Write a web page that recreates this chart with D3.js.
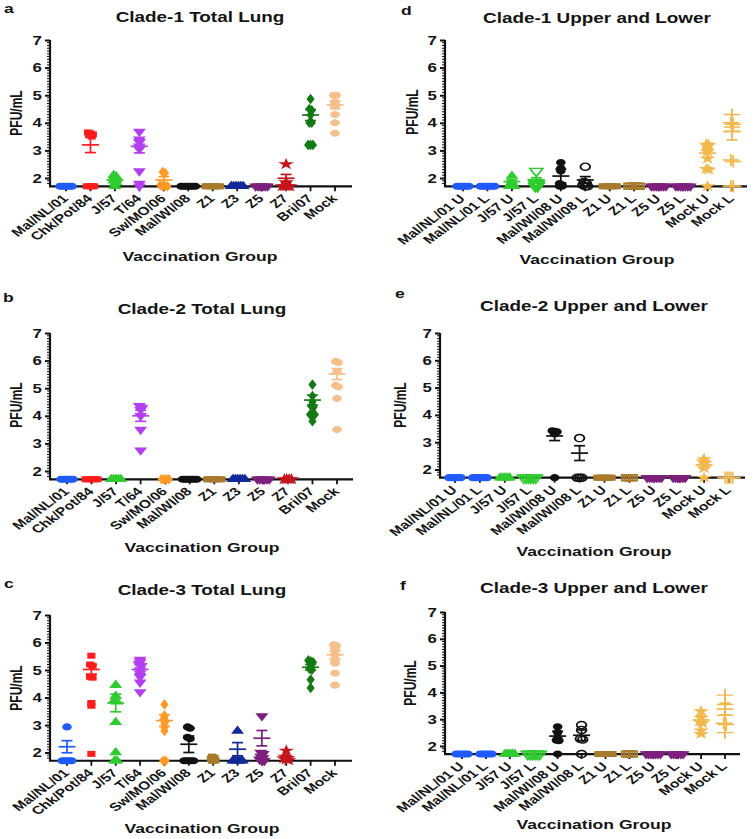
<!DOCTYPE html>
<html><head><meta charset="utf-8">
<script src="https://cdn.jsdelivr.net/npm/d3@7"></script>
<style>
body{margin:0;background:#fff;}
svg{display:block;}
text{font-family:"Liberation Sans",Arial,Helvetica,sans-serif;font-weight:bold;fill:#141414;}
</style>
</head><body>
<svg id="fig" width="755" height="839"></svg>
<script>
// ---------------- DATA ----------------
const catsLeft = ["Mal/NL/01","Chk/Pot/84","J/57","T/64","Sw/MO/06","Mal/WI/08","Z1","Z3","Z5","Z7","Bri/07","Mock"];
const catsRight = ["Mal/NL/01 U","Mal/NL/01 L","J/57 U","J/57 L","Mal/WI/08 U","Mal/WI/08 L","Z1 U","Z1 L","Z5 U","Z5 L","Mock U","Mock L"];
const yTicks = [2,3,4,5,6,7];

// Panel a: Clade-1 Total Lung (log10 PFU/mL per animal)
const pointsA = [
  [1.7,1.7,1.7,1.7,1.7,1.7],
  [3.65,3.62,3.58,3.55,3.5,1.7,1.7,1.7,1.7],
  [2.1,2.05,2.0,1.95,1.9,1.85,1.8,1.7],
  [3.68,3.4,3.3,3.15,3.05,2.25,1.8,1.7],
  [2.22,2.18,1.75,1.7,1.7,1.7],
  [1.7,1.7,1.7,1.7,1.7,1.7,1.7],
  [1.7,1.7,1.7,1.7,1.7,1.7,1.7],
  [1.7,1.7,1.7,1.7,1.7,1.7],
  [1.7,1.7,1.7,1.7,1.7,1.7],
  [2.5,1.85,1.7,1.7,1.7,1.7],
  [4.86,4.5,4.45,4.28,4.0,4.0,3.2,3.2,3.2],
  [5.0,5.0,4.75,4.68,4.6,4.3,4.0,3.62]
];
const meanA = [null,3.2,1.93,3.15,1.93,null,null,null,null,1.99,4.28,4.65];
const semA  = [0,0.28,0.08,0.24,0.12,0,0,0,0,0.14,0.2,0.14];

// Panel b: Clade-2 Total Lung
const pointsB = [
  [1.7,1.7,1.7,1.7,1.7,1.7],
  [1.7,1.7,1.7,1.7,1.7,1.7],
  [1.7,1.7,1.7,1.7,1.7],
  [4.36,4.3,4.22,4.0,3.5,2.75],
  [1.7,1.7,1.7,1.7],
  [1.7,1.7,1.7,1.7,1.7,1.7,1.7],
  [1.7,1.7,1.7,1.7,1.7,1.7,1.7],
  [1.7,1.7,1.7,1.7,1.7,1.7],
  [1.7,1.7,1.7,1.7,1.7,1.7],
  [1.7,1.7,1.7,1.7],
  [5.13,4.72,4.5,4.35,4.32,4.05,4.05,4.05,3.8],
  [5.97,5.93,5.6,5.1,5.05,4.63,3.5]
];
const meanB = [null,null,null,4.0,null,null,null,null,null,null,4.57,5.51];
const semB  = [0,0,0,0.2,0,0,0,0,0,0,0.18,0.2];

// Panel c: Clade-3 Total Lung
const pointsC = [
  [2.93,1.7,1.7,1.7,1.7,1.7],
  [5.52,5.2,5.15,4.75,4.72,3.8,3.7,1.95],
  [4.45,4.05,3.9,3.85,3.1,2.0,1.7,1.7],
  [5.38,5.3,5.22,5.15,5.0,4.88,4.75,4.55,4.2],
  [3.75,3.35,3.28,3.2,3.15,3.05,2.9,2.78,1.7,1.7],
  [2.93,2.88,2.55,2.5,1.7,1.7,1.7,1.7,1.7],
  [1.85,1.82,1.78,1.75,1.72,1.7,1.7],
  [2.78,1.7,1.7,1.7,1.7,1.7],
  [3.33,2.0,1.95,1.85,1.8,1.75,1.7,1.7],
  [2.07,1.85,1.8,1.78,1.75,1.72],
  [5.35,5.32,5.28,5.2,5.12,5.05,5.0,4.65,4.35],
  [5.92,5.88,5.8,5.72,5.55,5.35,5.25,4.88,4.45]
];
const meanC = [2.21,5.02,3.8,5.02,3.16,2.3,null,2.12,2.52,null,5.1,5.55];
const semC  = [0.22,0.17,0.32,0.16,0.21,0.3,0,0.24,0.28,0,0.1,0.15];

// Panel d: Clade-1 Upper and Lower
const pointsD = [
  [1.7,1.7,1.7,1.7,1.7,1.7],
  [1.7,1.7,1.7,1.7,1.7,1.7,1.7],
  [2.07,1.8,1.75,1.7,1.7,1.7],
  [2.25,1.85,1.8,1.78,1.75,1.7,1.7],
  [2.56,2.35,2.25,1.8,1.75,1.7,1.7],
  [2.41,1.85,1.8,1.75,1.7,1.7],
  [1.7,1.7,1.7,1.7,1.7,1.7,1.7],
  [1.7,1.7,1.7,1.7,1.7,1.7],
  [1.7,1.7,1.7,1.7,1.7,1.7,1.7],
  [1.7,1.7,1.7,1.7,1.7,1.7,1.7],
  [3.22,3.2,3.15,2.95,2.7,2.33,2.3,1.7],
  [4.3,4.0,3.95,3.85,3.7,2.65,2.6,1.7,1.7]
];
const meanD = [null,null,1.87,1.93,2.07,1.93,null,null,null,null,2.9,3.68];
const semD  = [0,0,0.06,0.08,0.25,0.12,0,0,0,0,0.15,0.3];

// Panel e: Clade-2 Upper and Lower
const pointsE = [
  [1.7,1.7,1.7,1.7,1.7,1.7],
  [1.7,1.7,1.7,1.7,1.7,1.7,1.7],
  [1.7,1.7,1.7,1.7,1.7],
  [1.7,1.7,1.7,1.7,1.7,1.7],
  [3.42,3.4,3.38,3.3,1.7],
  [3.15,1.7,1.7,1.7],
  [1.7,1.7,1.7,1.7,1.7,1.7,1.7],
  [1.7,1.7,1.7,1.7],
  [1.7,1.7,1.7,1.7,1.7,1.7,1.7],
  [1.7,1.7,1.7,1.7,1.7,1.7],
  [2.38,2.3,2.25,2.05,1.7],
  [1.7,1.7,1.7,1.7]
];
const meanE = [null,null,null,null,3.23,2.6,null,null,null,null,2.17,null];
const semE  = [0,0,0,0,0.17,0.27,0,0,0,0,0.12,0];

// Panel f: Clade-3 Upper and Lower
const pointsF = [
  [1.7,1.7,1.7,1.7,1.7,1.7],
  [1.7,1.7,1.7,1.7,1.7,1.7],
  [1.7,1.7,1.7,1.7,1.7],
  [1.7,1.7,1.7,1.7,1.7,1.7],
  [2.72,2.5,2.3,2.22,2.2,1.7],
  [2.78,2.6,2.27,2.24,1.7],
  [1.7,1.7,1.7,1.7,1.7,1.7,1.7],
  [1.7,1.7,1.7,1.7],
  [1.7,1.7,1.7,1.7,1.7,1.7,1.7],
  [1.7,1.7,1.7,1.7,1.7,1.7],
  [3.3,3.05,2.92,2.85,2.58,2.45],
  [3.9,3.55,3.15,2.85,2.8,2.5]
];
const meanF = [null,null,null,null,2.37,2.4,null,null,null,null,2.97,3.38];
const semF  = [0,0,0,0,0.18,0.2,0,0,0,0,0.17,0.22];

// ---------------- STYLES ----------------
const colorsLeft = ["#1f5bff","#ff1c1c","#2fcc2f","#b43ff0","#ff9a26","#111111","#a87a2c","#12299a","#7d1f7d","#c3161c","#137a13","#f6c08c"];
const shapesLeft = ["circle","square","triangle","triangleDown","diamond","circle","square","triangle","triangleDown","star","diamond","circle"];
const filledLeft = [1,1,1,1,1,1,1,1,1,1,1,1];
const colorsRight = ["#1f5bff","#1f5bff","#2fcc2f","#2fcc2f","#111111","#111111","#a87a2c","#a87a2c","#7d1f7d","#7d1f7d","#f2b84e","#f2b84e"];
const shapesRight = ["circle","circle","triangle","triangleDown","circle","circle","square","square","triangleDown","triangleDown","star","plus"];
const filledRight = [1,1,1,0,1,0,1,0,1,1,1,0];

const SX = 1.35; // horizontal stretch of the original figure

const layouts = [
  {letter:"a", lx:4, ly:13, title:"Clade-1 Total Lung", tx:200, ty:22, ax:50, xEnd:352, c0:66, c1:335, y7:40, y2:178, xlY:261, ylX:22, ylY:113,
   cats:catsLeft, pts:pointsA, mean:meanA, sem:semA, col:colorsLeft, shp:shapesLeft, fil:filledLeft},
  {letter:"b", lx:3, ly:302, title:"Clade-2 Total Lung", tx:202, ty:314, ax:50, xEnd:353, c0:67, c1:337, y7:333, y2:471, xlY:552, ylX:22, ylY:405,
   cats:catsLeft, pts:pointsB, mean:meanB, sem:semB, col:colorsLeft, shp:shapesLeft, fil:filledLeft},
  {letter:"c", lx:4, ly:588, title:"Clade-3 Total Lung", tx:202, ty:595, ax:50, xEnd:352, c0:67, c1:335, y7:615, y2:752.5, xlY:833, ylX:22, ylY:688,
   cats:catsLeft, pts:pointsC, mean:meanC, sem:semC, col:colorsLeft, shp:shapesLeft, fil:filledLeft},
  {letter:"d", lx:401, ly:15, title:"Clade-1 Upper and Lower", tx:597, ty:23, ax:445, xEnd:747, c0:463, c1:732, y7:40, y2:178, xlY:264, ylX:418, ylY:112,
   cats:catsRight, pts:pointsD, mean:meanD, sem:semD, col:colorsRight, shp:shapesRight, fil:filledRight},
  {letter:"e", lx:395, ly:298, title:"Clade-2 Upper and Lower", tx:594, ty:311, ax:440, xEnd:745, c0:455, c1:729, y7:333, y2:469.5, xlY:556, ylX:406, ylY:405,
   cats:catsRight, pts:pointsE, mean:meanE, sem:semE, col:colorsRight, shp:shapesRight, fil:filledRight},
  {letter:"f", lx:400, ly:590, title:"Clade-3 Upper and Lower", tx:594, ty:593, ax:445, xEnd:740, c0:462, c1:725, y7:612, y2:746, xlY:829, ylX:416, ylY:683,
   cats:catsRight, pts:pointsF, mean:meanF, sem:semF, col:colorsRight, shp:shapesRight, fil:filledRight}
];

const svg = d3.select("#fig");
const symType = {circle:d3.symbolCircle, square:d3.symbolSquare, triangle:d3.symbolTriangle, triangleDown:d3.symbolTriangle,
  diamond:d3.symbolDiamond, star:d3.symbolStar, plus:(d3.symbolPlus||d3.symbolCross)};
const symSize = {circle:40, square:36, triangle:40, triangleDown:40, diamond:32, star:44, plus:50};

function stretchedText(g, x, y, txt, size, anchor, extra) {
  return g.append("text")
    .attr("transform", `translate(${x},${y}) scale(${SX},1)${extra||""}`)
    .attr("text-anchor", anchor).attr("font-size", size).text(txt);
}

layouts.forEach(P => {
  const g = svg.append("g");
  const y = d3.scaleLinear().domain([2,7]).range([P.y2, P.y7]);
  const yBot = y(1.7);
  const x = d3.scalePoint().domain(P.cats).range([P.c0, P.c1]);

  // letter and title
  stretchedText(g, P.lx, P.ly, P.letter, 13, "start");
  stretchedText(g, P.tx, P.ty, P.title, 14, "middle");

  // y axis
  const yAxis = d3.axisLeft(y.copy().domain([1.7,7]).range([yBot,P.y7])).tickValues(yTicks).tickSize(5).tickPadding(3).tickFormat(d3.format("d"));
  const ya = g.append("g").attr("transform",`translate(${P.ax},0)`).call(yAxis);
  ya.select(".domain").attr("stroke","#111").attr("stroke-width",2.2).attr("d",`M0,${yBot}V${P.y7}`);
  ya.selectAll(".tick line").attr("stroke","#111").attr("stroke-width",2);
  ya.selectAll(".tick text").remove();
  yTicks.forEach(t => stretchedText(g, P.ax-8, y(t)+4.5, String(t), 12.5, "end"));
  const minor = d3.range(18,70).map(v=>v/10).filter(v=>Math.abs(v-Math.round(v))>0.01);
  g.selectAll(null).data(minor).join("line")
    .attr("x1",P.ax).attr("x2",P.ax-3).attr("y1",d=>y(d)).attr("y2",d=>y(d))
    .attr("stroke","#111").attr("stroke-width",1);

  // y label
  stretchedText(g, P.ylX, P.ylY, "PFU/mL", 12, "middle", " rotate(-90)");

  // x axis
  g.append("line").attr("x1",P.ax-1).attr("x2",P.xEnd).attr("y1",yBot).attr("y2",yBot).attr("stroke","#111").attr("stroke-width",2.2);
  g.selectAll(null).data(P.cats).join("line")
    .attr("x1",d=>x(d)).attr("x2",d=>x(d)).attr("y1",yBot).attr("y2",yBot+5).attr("stroke","#111").attr("stroke-width",1.8);
  P.cats.forEach(c => stretchedText(g, x(c)+3, yBot+13, c, 11.5, "end", " rotate(-45)"));
  stretchedText(g, P.tx, P.xlY, "Vaccination Group", 13, "middle");

  // points
  P.cats.forEach((c,i) => {
    const vals = P.pts[i].slice().sort((a,b)=>b-a);
    const rows = [];
    vals.forEach(v => {
      const r = rows[rows.length-1];
      if (r && Math.abs(r[0]-v) < 0.07) r.push(v); else rows.push([v]);
    });
    const shape = P.shp[i], col = P.col[i], filled = P.fil[i];
    const sym = d3.symbol().type(symType[shape]).size(symSize[shape]);
    const stroke = (shape==="plus");
    rows.forEach(r => {
      r.forEach((v,k) => {
        const dx = (k-(r.length-1)/2)*2.4;
        const cx = x(c)+dx, cy = y(v);
        const rot = shape==="triangleDown" ? " rotate(180)" : "";
        const p = g.append("path").attr("d",sym()).attr("transform",`translate(${cx},${cy}) scale(${SX},1)${rot}`);
        if (stroke) p.attr("fill","none").attr("stroke",col).attr("stroke-width",1.4);
        else if (filled) p.attr("fill",col);
        else p.attr("fill","none").attr("stroke",col).attr("stroke-width",1.4);
      });
    });
    // mean +/- SEM
    const m = P.mean[i];
    if (m !== null) {
      const s = P.sem[i], cx = x(c);
      const eb = g.append("g").attr("stroke",col).attr("stroke-width",1.7).attr("fill","none");
      eb.append("line").attr("x1",cx).attr("x2",cx).attr("y1",y(m-s)).attr("y2",y(m+s));
      eb.append("line").attr("x1",cx-8.5).attr("x2",cx+8.5).attr("y1",y(m)).attr("y2",y(m));
      eb.append("line").attr("x1",cx-5.5).attr("x2",cx+5.5).attr("y1",y(m+s)).attr("y2",y(m+s));
      eb.append("line").attr("x1",cx-5.5).attr("x2",cx+5.5).attr("y1",y(m-s)).attr("y2",y(m-s));
    }
  });
});
</script>
</body></html>
